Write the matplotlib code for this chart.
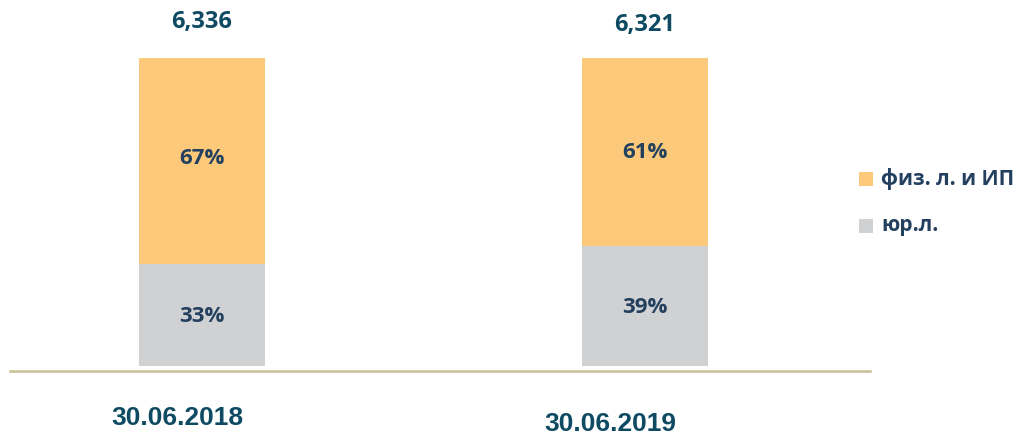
import matplotlib
matplotlib.use("Agg")
import matplotlib.pyplot as plt
from matplotlib.patches import Rectangle

categories = ["30.06.2018", "30.06.2019"]
totals = ["6,336", "6,321"]
legal = [33, 39]
individuals = [67, 61]
series_names = ["физ. л. и ИП", "юр.л."]

c_ind = "#FCC97A"
c_leg = "#D0D1D3"
c_pct = "#24405F"
c_tot = "#0E4A62"

W, H = 1022, 437
fig = plt.figure(figsize=(W / 100, H / 100), dpi=100)

def fx(px):
    return px / W

def fy(py):
    return 1 - py / H

# axes: x from 10px to 870px, y from 0px (top) to 366px (value 0)
ax = fig.add_axes([fx(10), fy(366), fx(870) - fx(10), fy(0) - fy(366)])
x = list(range(len(categories)))
width = 126 / 443
ax.bar(x, legal, width, color=c_leg)
ax.bar(x, individuals, width, bottom=legal, color=c_ind)
ax.set_xlim(-192 / 443, 1 + 225 / 443)
ax.set_ylim(0, 100 + 58 / 3.08)
ax.axis("off")

fp = dict(family=["Open Sans", "DejaVu Sans"], fontweight="bold")
# small pixel offsets (points) for label placement
ind_dy = [3, -1]
leg_dy = [-1, -2]
tot_y = [22, 25]
for i in x:
    ax.annotate(f"{legal[i]}%", (i, legal[i] / 2), xytext=(0, leg_dy[i]),
                textcoords="offset pixels", ha="center", va="center",
                color=c_pct, fontsize=16, **fp)
    ax.annotate(f"{individuals[i]}%", (i, legal[i] + individuals[i] / 2),
                xytext=(0, ind_dy[i]), textcoords="offset pixels",
                ha="center", va="center", color=c_pct, fontsize=16, **fp)
    ax.text(i, 100 + (58 - tot_y[i]) / 3.08, totals[i], ha="center", va="center",
            color=c_tot, fontsize=17, **fp)

# baseline
fig.add_artist(plt.Line2D([fx(10), fx(870)], [fy(370.5), fy(370.5)],
                          color="#C9BF97", lw=1.8))

# category labels
label_x = [177.5, 610.5]
label_y = [418, 424]
for i, c in enumerate(categories):
    fig.text(fx(label_x[i]), fy(label_y[i]), c,
             ha="center", va="center", color=c_tot, fontsize=19,
             family=["Liberation Sans", "DejaVu Sans"], fontweight="bold")

# legend
leg_items = [(series_names[0], c_ind, 178.5), (series_names[1], c_leg, 226)]
for name, col, yc in leg_items:
    fig.add_artist(Rectangle((fx(859), fy(yc + 7)), fx(14), 14 / H,
                             facecolor=col, edgecolor="none"))
    fig.text(fx(881), fy(yc), name, ha="left", va="center", color=c_pct,
             fontsize=15, **fp)

fig.savefig("out.png", dpi=100)
